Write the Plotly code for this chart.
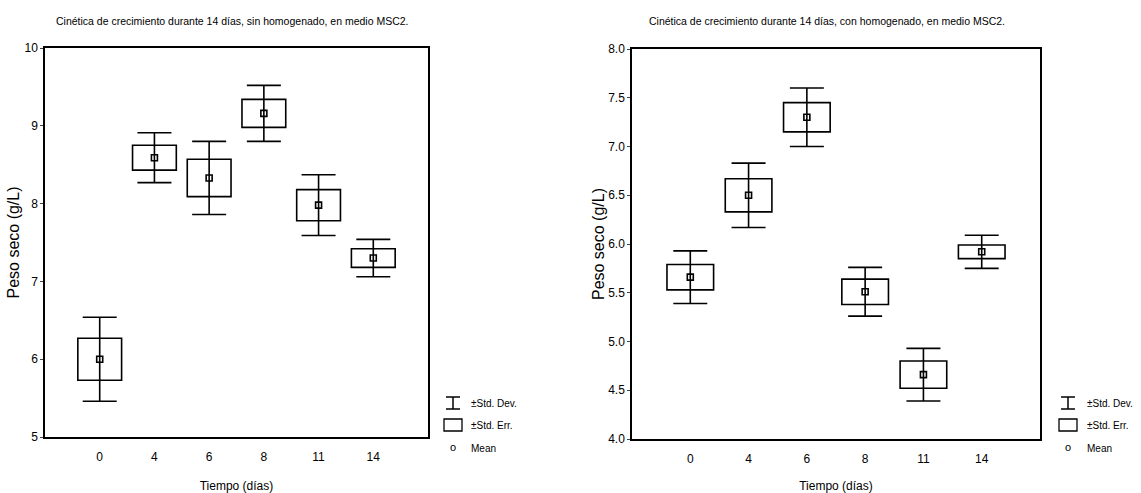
import plotly.graph_objects as go

W, H = 1141, 493

# ---------------- data ----------------
dias = ["0", "4", "6", "8", "11", "14"]

# Left chart: sin homogenado
sin_mean = [6.00, 8.59, 8.33, 9.16, 7.98, 7.30]
sin_se = [0.27, 0.16, 0.24, 0.18, 0.20, 0.12]
sin_sd = [0.54, 0.32, 0.47, 0.36, 0.39, 0.24]

# Right chart: con homogenado
con_mean = [5.66, 6.50, 7.30, 5.51, 4.66, 5.92]
con_se = [0.13, 0.17, 0.15, 0.13, 0.14, 0.07]
con_sd = [0.27, 0.33, 0.30, 0.25, 0.27, 0.17]

titulo_izq = "Cinética de crecimiento durante 14 días, sin homogenado, en medio MSC2."
titulo_der = "Cinética de crecimiento durante 14 días, con homogenado, en medio MSC2."
eje_x = "Tiempo (días)"
eje_y = "Peso seco (g/L)"
leyenda = ["±Std. Dev.", "±Std. Err.", "Mean"]

FONT = "Liberation Sans Narrow, Arial Narrow, Liberation Sans, Arial, sans-serif"
YFONT = "Liberation Sans, Arial, sans-serif"


def px(x):
    return x / W


def py(y):
    return 1 - y / H


fig = go.Figure()


def add_panel(means, se, sd, xa, ya):
    # SD whiskers (drawn first, box covers middle)
    fig.add_trace(go.Scatter(
        x=dias, y=means, mode="markers", xaxis=xa, yaxis=ya,
        marker=dict(size=1, color="rgba(0,0,0,0)"),
        error_y=dict(type="data", array=sd, visible=True, color="black",
                     thickness=1.6, width=17),
        showlegend=False, hoverinfo="skip"))
    # SE boxes
    fig.add_trace(go.Bar(
        x=dias, y=[2 * s for s in se], base=[m - s for m, s in zip(means, se)],
        xaxis=xa, yaxis=ya, width=0.8,
        marker=dict(color="white", line=dict(color="black", width=1.6)),
        showlegend=False, hoverinfo="skip"))
    # Means
    fig.add_trace(go.Scatter(
        x=dias, y=means, mode="markers", xaxis=xa, yaxis=ya,
        marker=dict(symbol="square-open", size=6, color="black",
                    line=dict(width=1.6, color="black")),
        showlegend=False))


add_panel(sin_mean, sin_se, sin_sd, "x", "y")
add_panel(con_mean, con_se, con_sd, "x2", "y2")

axis_common = dict(showline=True, linecolor="black", linewidth=1.5, mirror=True,
                   showgrid=False, zeroline=False, automargin=False)

fig.update_layout(
    width=W, height=H,
    margin=dict(l=0, r=0, t=0, b=0),
    paper_bgcolor="white", plot_bgcolor="white",
    barmode="overlay",
    showlegend=False,
    font=dict(family=FONT, color="black", size=11),
    xaxis=dict(domain=[px(45), px(428)], anchor="y", type="category",
               range=[-1, 6], ticks="", ticklabelstandoff=8,
               tickfont=dict(size=12, family=FONT),
               title=dict(text=eje_x, font=dict(size=12, family=FONT), standoff=26),
               **axis_common),
    yaxis=dict(domain=[py(437), py(48)], anchor="x", range=[5, 10], dtick=1,
               ticks="outside", ticklen=3, tickfont=dict(size=12, family=FONT),
               title=dict(text=eje_y, font=dict(size=16, family=YFONT), standoff=1),
               **axis_common),
    xaxis2=dict(domain=[px(632), px(1040)], anchor="y2", type="category",
                range=[-1, 6], ticks="", ticklabelstandoff=8,
                tickfont=dict(size=12, family=FONT),
                title=dict(text=eje_x, font=dict(size=12, family=FONT), standoff=26),
                **axis_common),
    yaxis2=dict(domain=[py(439), py(49)], anchor="x2", range=[4, 8], dtick=0.5,
                tickformat=".1f", ticks="outside", ticklen=3,
                tickfont=dict(size=12, family=FONT),
                title=dict(text=eje_y, font=dict(size=16, family=YFONT), standoff=0),
                **axis_common),
)

annotations = [
    dict(text=titulo_izq, x=px(232), y=py(21), font=dict(size=10.5, family=FONT)),
    dict(text=titulo_der, x=px(827), y=py(21), font=dict(size=10.5, family=FONT)),
]
shapes = []


def legend(x0, xt):
    # x0: center of the icons, xt: left of text
    shapes.append(dict(type="line", xref="paper", yref="paper",
                       x0=px(x0), x1=px(x0), y0=py(397), y1=py(409),
                       line=dict(color="black", width=1.5)))
    for yy in (397, 409):
        shapes.append(dict(type="line", xref="paper", yref="paper",
                           x0=px(x0 - 7), x1=px(x0 + 7), y0=py(yy), y1=py(yy),
                           line=dict(color="black", width=1.5)))
    shapes.append(dict(type="rect", xref="paper", yref="paper",
                       x0=px(x0 - 9), x1=px(x0 + 9), y0=py(431), y1=py(419),
                       line=dict(color="black", width=1.3), fillcolor="white"))
    annotations.append(dict(text="o", x=px(x0), y=py(447), xanchor="center",
                            font=dict(size=11, family=FONT)))
    for t, yy in zip(leyenda, (403, 425, 448)):
        annotations.append(dict(text=t, x=px(xt), y=py(yy), xanchor="left",
                                font=dict(size=10, family=FONT)))


legend(453, 469)
legend(1068, 1085)

for a in annotations:
    a.setdefault("xref", "paper")
    a.setdefault("yref", "paper")
    a.setdefault("showarrow", False)
    a.setdefault("xanchor", "center")
    a.setdefault("yanchor", "middle")
    a.setdefault("font", dict(size=11, family=FONT))

fig.update_layout(annotations=annotations, shapes=shapes)

fig.write_html("out.html",
               config={"displayModeBar": False},
               post_script="document.body.style.margin='0';"
                           "document.body.style.overflow='hidden';")
